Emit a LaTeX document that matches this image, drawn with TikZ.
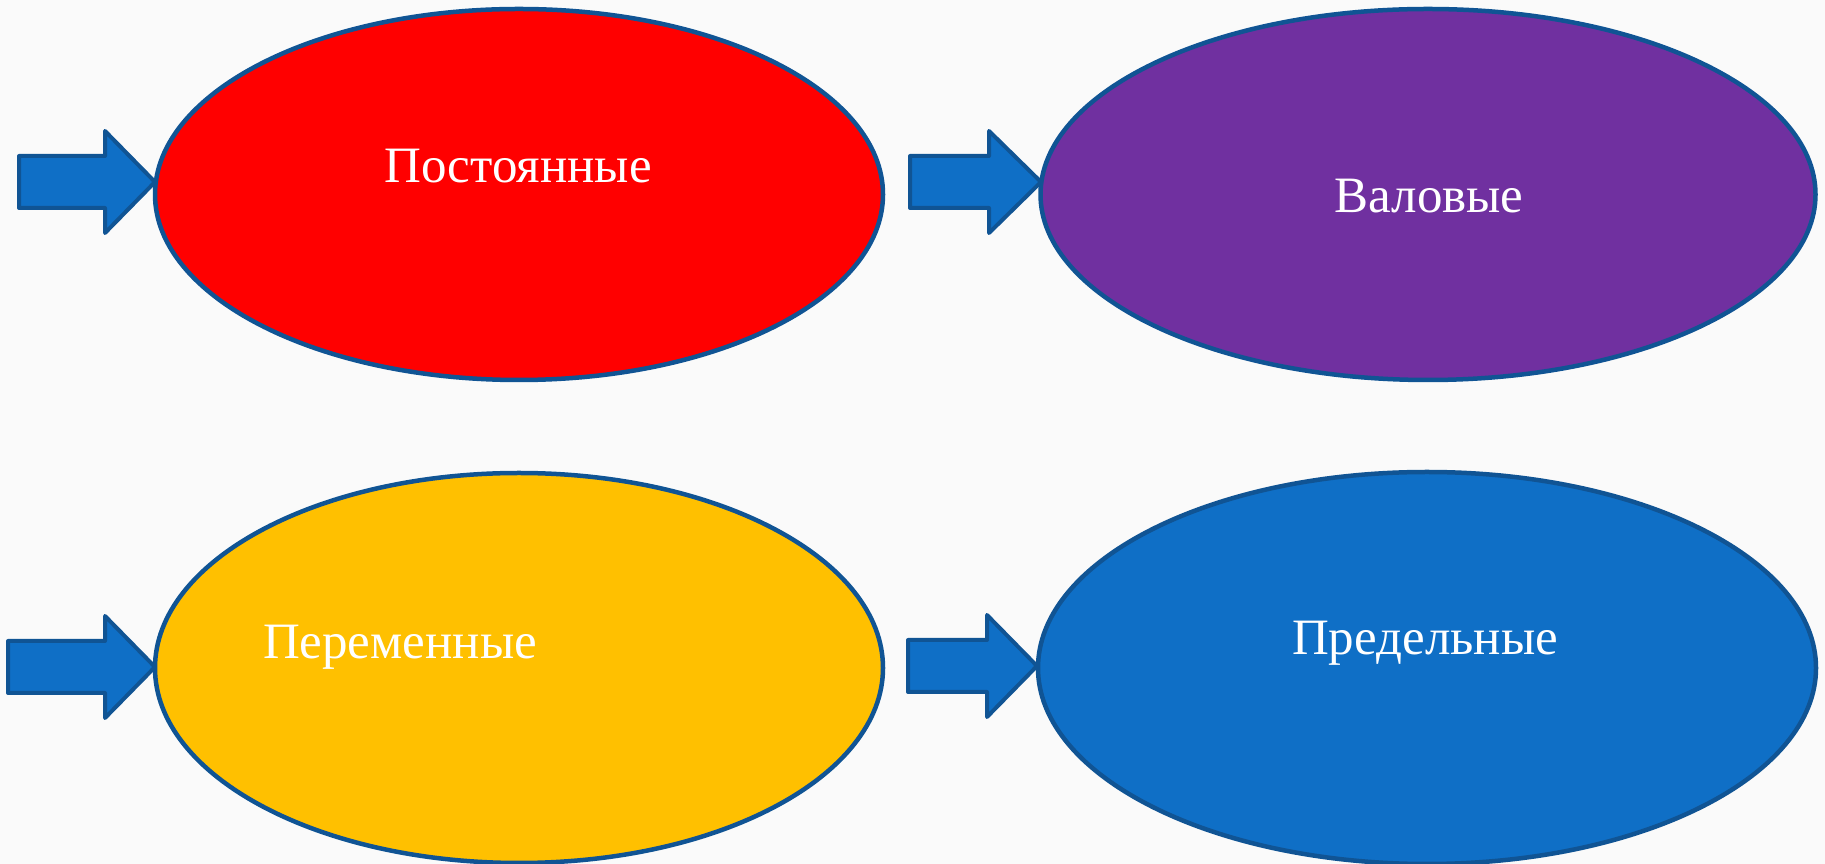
\documentclass[tikz,border=0pt]{standalone}
\usepackage{fontspec}
\setmainfont{Liberation Serif}
\usetikzlibrary{shapes.geometric}
\definecolor{edgeblue}{RGB}{16,84,148}
\definecolor{arrowfill}{RGB}{15,111,198}
\definecolor{redfill}{RGB}{255,0,0}
\definecolor{purplefill}{RGB}{112,48,160}
\definecolor{yellowfill}{RGB}{255,192,0}
\definecolor{bluefill}{RGB}{15,111,198}
\definecolor{bgcol}{RGB}{250,250,250}
\newcommand{\blockarrow}[5]{% name, x0, xh, xt, yc
  \coordinate (#1) at (#4,#5);
  \draw[barrow] (#2,#5+26) -- (#3,#5+26) -- (#3,#5+51) -- (#1) -- (#3,#5-51) -- (#3,#5-26) -- (#2,#5-26) -- cycle;
}
\begin{document}
\begin{tikzpicture}[x=1pt,y=1pt,
  ell/.style={ellipse, draw=edgeblue, line width=4.5pt, inner sep=0pt},
  lbl/.style={text=white, font=\fontsize{51}{60}\selectfont, anchor=base, inner sep=0pt},
  barrow/.style={draw=edgeblue, fill=arrowfill, line width=4pt, line join=round}]
\fill[bgcol] (0,0) rectangle (1825,864);
\useasboundingbox (0,0) rectangle (1825,864);

\node[ell, fill=redfill, minimum width=728pt, minimum height=371pt] (e1) at (519,669.5) {};
\node[ell, fill=purplefill, minimum width=775pt, minimum height=371pt] (e2) at (1428,669.5) {};
\node[ell, fill=yellowfill, minimum width=728pt, minimum height=390pt] (e3) at (519,196) {};
\node[ell, fill=bluefill, minimum width=778pt, minimum height=392pt] (e4) at (1427,196) {};

\node[lbl] (t1) at (518,681) {Постоянные};
\node[lbl] (t2) at (1429,651) {Валовые};
\node[lbl] (t3) at (400,205) {Переменные};
\node[lbl] (t4) at (1425,209) {Предельные};

\blockarrow{a1}{19}{105}{155}{682}
\blockarrow{a2}{910}{989}{1041}{682}
\blockarrow{a3}{8}{105}{155}{197}
\blockarrow{a4}{908}{987}{1037}{198}
\end{tikzpicture}
\end{document}
